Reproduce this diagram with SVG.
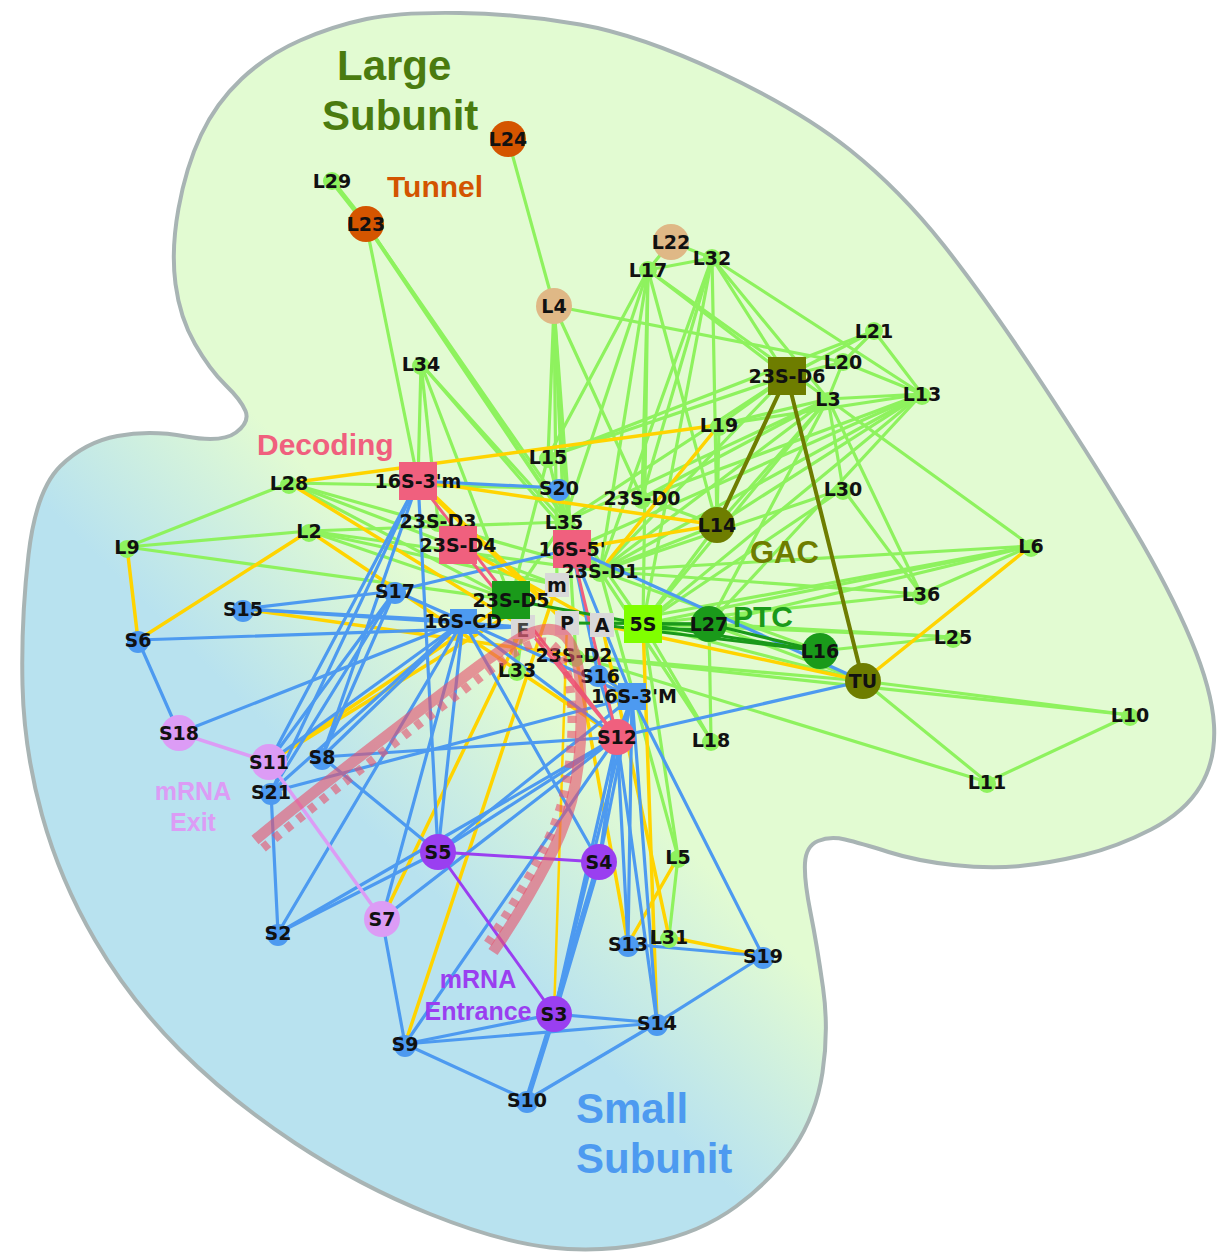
<svg xmlns="http://www.w3.org/2000/svg" width="1228" height="1254" viewBox="0 0 1228 1254">
<defs>
<linearGradient id="bg" gradientUnits="userSpaceOnUse" x1="280" y1="740" x2="430" y2="590">
<stop offset="0" stop-color="#b8e2ef"/>
<stop offset="1" stop-color="#e2fbd2"/>
</linearGradient>
<style>
#edges line{stroke-linecap:round}
.g{stroke:#8ef25e;stroke-width:3.2}
.y{stroke:#ffd400;stroke-width:3.5}
.b{stroke:#4d9af0;stroke-width:3.2}
.tb{stroke:#4d9af0;stroke-width:5.5}
.pk{stroke:#f0607e;stroke-width:3}
.vi{stroke:#dc9cf5;stroke-width:3.5}
.pu{stroke:#9a3ff0;stroke-width:3}
.ol{stroke:#6e7d00;stroke-width:4}
.dg{stroke:#1a9a1a;stroke-width:3}
.ng{fill:#8ef25e}
.nb{fill:#4d9af0}
.nt{fill:#dfb886}
.no{fill:#d45500}
.nv{fill:#dc9cf5}
.np{fill:#9a3ff0}
.nk{fill:#f0607e}
.nd{fill:#1a9a1a}
.nol{fill:#6e7d00}
.ngr{fill:#d9d9d9}
.nl{fill:#80ff00}
text.lb{font-family:"DejaVu Sans",sans-serif;font-weight:bold;font-size:19px;fill:#111;text-anchor:middle;dominant-baseline:central}
text.rg{font-family:"Liberation Sans",Arial,sans-serif;font-weight:bold}
.mr{fill:none;stroke:#e8506a;stroke-opacity:0.6}
</style>
</defs>
<path id="blob" d="M 460,13 Q 520,14 580,24.5 Q 640,35 720,72.5 Q 800,110 850,150 Q 900,190 943.5,245 Q 987,300 1042,383.5 Q 1097,467 1133.5,528.5 Q 1170,590 1191,640 Q 1212,690 1214,725 Q 1216,760 1200.5,786 Q 1185,812 1151,829.5 Q 1117,847 1083.5,855 Q 1050,863 1020,866 Q 990,869 953.5,865 Q 917,861 888.5,852 Q 860,843 845,839.5 Q 830,836 818,841 Q 806,846 805,863 Q 804,880 810.5,912.5 Q 817,945 823,987.5 Q 829,1030 822.5,1072.5 Q 816,1115 794,1147.5 Q 772,1180 736,1206.5 Q 700,1233 650,1243 Q 600,1253 550,1247.5 Q 500,1242 430,1214 Q 360,1186 295,1143 Q 230,1100 180,1050 Q 130,1000 95,940 Q 60,880 42,815 Q 24,750 22.5,685 Q 21,620 28.5,555 Q 36,490 60.5,466 Q 85,442 117.5,436 Q 150,430 186,436.5 Q 222,443 236,432.5 Q 250,422 245.5,411 Q 241,400 225.5,385 Q 210,370 195,344 Q 180,318 175.5,284 Q 171,250 178.5,208.5 Q 186,167 201,135 Q 216,103 241.5,79 Q 267,55 300,40.5 Q 333,26 366.5,19 Q 400,12 460,13 Z" fill="url(#bg)" stroke="#a8b4b4" stroke-width="4"/>

<g id="edges">
<line class="g" style="stroke-width:5" x1="332" y1="181" x2="366" y2="224"/>
<line class="g" x1="366" y1="224" x2="418" y2="481"/>
<line class="g" style="stroke-width:4" x1="366" y1="224" x2="600" y2="571"/>
<line class="g" x1="366" y1="224" x2="643" y2="624"/>
<line class="g" x1="508" y1="139" x2="554" y2="306"/>
<line class="g" x1="671" y1="242" x2="648" y2="270"/>
<line class="g" x1="671" y1="242" x2="712" y2="258"/>
<line class="g" x1="648" y1="270" x2="712" y2="258"/>
<line class="g" x1="554" y1="306" x2="548" y2="457"/>
<line class="g" x1="554" y1="306" x2="564" y2="522"/>
<line class="g" x1="554" y1="306" x2="572" y2="549"/>
<line class="g" x1="554" y1="306" x2="642" y2="498"/>
<line class="g" x1="554" y1="306" x2="843" y2="362"/>
<line class="g" x1="554" y1="306" x2="557" y2="585"/>
<line class="g" x1="554" y1="306" x2="576" y2="656"/>
<line class="g" x1="421" y1="364" x2="438" y2="521"/>
<line class="g" x1="421" y1="364" x2="511" y2="600"/>
<line class="g" x1="421" y1="364" x2="564" y2="522"/>
<line class="g" x1="421" y1="364" x2="600" y2="571"/>
<line class="g" x1="421" y1="364" x2="418" y2="481"/>
<line class="g" x1="648" y1="270" x2="600" y2="571"/>
<line class="g" x1="648" y1="270" x2="642" y2="498"/>
<line class="g" x1="648" y1="270" x2="564" y2="522"/>
<line class="g" x1="648" y1="270" x2="717" y2="525"/>
<line class="g" x1="648" y1="270" x2="828" y2="399"/>
<line class="g" x1="648" y1="270" x2="548" y2="457"/>
<line class="g" x1="648" y1="270" x2="787" y2="376"/>
<line class="g" x1="648" y1="270" x2="643" y2="624"/>
<line class="g" x1="712" y1="258" x2="642" y2="498"/>
<line class="g" x1="712" y1="258" x2="717" y2="525"/>
<line class="g" x1="712" y1="258" x2="643" y2="624"/>
<line class="g" x1="712" y1="258" x2="828" y2="399"/>
<line class="g" x1="712" y1="258" x2="922" y2="394"/>
<line class="g" x1="712" y1="258" x2="600" y2="571"/>
<line class="g" x1="712" y1="258" x2="787" y2="376"/>
<line class="g" x1="874" y1="331" x2="843" y2="362"/>
<line class="g" x1="874" y1="331" x2="922" y2="394"/>
<line class="g" x1="874" y1="331" x2="787" y2="376"/>
<line class="g" x1="874" y1="331" x2="548" y2="457"/>
<line class="g" x1="843" y1="362" x2="922" y2="394"/>
<line class="g" x1="843" y1="362" x2="787" y2="376"/>
<line class="g" x1="843" y1="362" x2="828" y2="399"/>
<line class="g" x1="828" y1="399" x2="922" y2="394"/>
<line class="g" x1="828" y1="399" x2="717" y2="525"/>
<line class="g" x1="828" y1="399" x2="642" y2="498"/>
<line class="g" x1="828" y1="399" x2="564" y2="522"/>
<line class="g" x1="828" y1="399" x2="843" y2="489"/>
<line class="g" x1="828" y1="399" x2="1031" y2="546"/>
<line class="g" x1="828" y1="399" x2="643" y2="624"/>
<line class="g" x1="828" y1="399" x2="709" y2="624"/>
<line class="g" x1="828" y1="399" x2="600" y2="571"/>
<line class="g" x1="828" y1="399" x2="719" y2="425"/>
<line class="g" x1="828" y1="399" x2="921" y2="594"/>
<line class="g" x1="922" y1="394" x2="717" y2="525"/>
<line class="g" x1="922" y1="394" x2="642" y2="498"/>
<line class="g" x1="922" y1="394" x2="643" y2="624"/>
<line class="g" x1="922" y1="394" x2="709" y2="624"/>
<line class="g" x1="922" y1="394" x2="600" y2="571"/>
<line class="g" x1="922" y1="394" x2="719" y2="425"/>
<line class="g" x1="922" y1="394" x2="572" y2="549"/>
<line class="g" x1="787" y1="376" x2="719" y2="425"/>
<line class="g" x1="787" y1="376" x2="548" y2="457"/>
<line class="g" x1="787" y1="376" x2="600" y2="571"/>
<line class="g" x1="787" y1="376" x2="564" y2="522"/>
<line class="g" x1="719" y1="425" x2="717" y2="525"/>
<line class="g" x1="548" y1="457" x2="511" y2="600"/>
<line class="g" x1="548" y1="457" x2="564" y2="522"/>
<line class="g" x1="289" y1="483" x2="127" y2="547"/>
<line class="g" x1="289" y1="483" x2="511" y2="600"/>
<line class="g" x1="289" y1="483" x2="559" y2="488"/>
<line class="g" x1="289" y1="483" x2="600" y2="571"/>
<line class="g" x1="289" y1="483" x2="557" y2="585"/>
<line class="g" x1="309" y1="531" x2="127" y2="547"/>
<line class="g" x1="309" y1="531" x2="511" y2="600"/>
<line class="g" x1="309" y1="531" x2="600" y2="571"/>
<line class="g" x1="309" y1="531" x2="564" y2="522"/>
<line class="g" x1="309" y1="531" x2="557" y2="585"/>
<line class="g" x1="127" y1="547" x2="511" y2="600"/>
<line class="g" x1="843" y1="489" x2="643" y2="624"/>
<line class="g" x1="843" y1="489" x2="921" y2="594"/>
<line class="g" x1="843" y1="489" x2="600" y2="571"/>
<line class="g" x1="1031" y1="546" x2="600" y2="571"/>
<line class="g" x1="1031" y1="546" x2="643" y2="624"/>
<line class="g" x1="1031" y1="546" x2="709" y2="624"/>
<line class="g" x1="1031" y1="546" x2="921" y2="594"/>
<line class="g" x1="1031" y1="546" x2="602" y2="625"/>
<line class="g" x1="921" y1="594" x2="643" y2="624"/>
<line class="g" x1="921" y1="594" x2="600" y2="571"/>
<line class="g" x1="953" y1="637" x2="820" y2="651"/>
<line class="g" x1="953" y1="637" x2="643" y2="624"/>
<line class="g" x1="953" y1="637" x2="709" y2="624"/>
<line class="g" x1="820" y1="651" x2="600" y2="571"/>
<line class="g" x1="863" y1="681" x2="1130" y2="715"/>
<line class="g" x1="863" y1="681" x2="987" y2="782"/>
<line class="g" x1="863" y1="681" x2="709" y2="624"/>
<line class="g" x1="863" y1="681" x2="643" y2="624"/>
<line class="g" x1="863" y1="681" x2="576" y2="656"/>
<line class="g" x1="1130" y1="715" x2="987" y2="782"/>
<line class="g" x1="1130" y1="715" x2="576" y2="656"/>
<line class="g" x1="987" y1="782" x2="576" y2="656"/>
<line class="g" x1="711" y1="740" x2="643" y2="624"/>
<line class="g" x1="711" y1="740" x2="709" y2="624"/>
<line class="g" x1="711" y1="740" x2="600" y2="571"/>
<line class="g" x1="678" y1="857" x2="669" y2="937"/>
<line class="g" x1="678" y1="857" x2="600" y2="571"/>
<line class="g" x1="678" y1="857" x2="643" y2="624"/>
<line class="g" x1="517" y1="670" x2="511" y2="600"/>
<line class="g" x1="517" y1="670" x2="523" y2="627"/>
<line class="g" x1="564" y1="522" x2="511" y2="600"/>
<line class="g" x1="564" y1="522" x2="600" y2="571"/>
<line class="g" x1="717" y1="525" x2="600" y2="571"/>
<line class="g" x1="717" y1="525" x2="643" y2="624"/>
<line class="g" x1="717" y1="525" x2="642" y2="498"/>

<line class="y" x1="127" y1="547" x2="138" y2="640"/>
<line class="y" x1="309" y1="531" x2="138" y2="640"/>
<line class="y" x1="289" y1="483" x2="523" y2="627"/>
<line class="y" x1="309" y1="531" x2="617" y2="737"/>
<line class="y" x1="243" y1="609" x2="576" y2="656"/>
<line class="y" x1="289" y1="483" x2="719" y2="425"/>
<line class="y" x1="418" y1="481" x2="717" y2="525"/>
<line class="y" x1="572" y1="549" x2="717" y2="525"/>
<line class="y" x1="719" y1="425" x2="600" y2="571"/>
<line class="y" x1="1031" y1="546" x2="863" y2="681"/>
<line class="y" x1="863" y1="681" x2="602" y2="625"/>
<line class="y" x1="269" y1="762" x2="511" y2="600"/>
<line class="y" x1="269" y1="762" x2="557" y2="585"/>
<line class="y" x1="382" y1="919" x2="523" y2="627"/>
<line class="y" x1="405" y1="1044" x2="557" y2="585"/>
<line class="y" x1="628" y1="944" x2="678" y2="857"/>
<line class="y" x1="657" y1="1023" x2="643" y2="624"/>
<line class="y" x1="669" y1="937" x2="763" y2="956"/>
<line class="y" style="stroke-width:2.5" x1="554" y1="1014" x2="567" y2="623"/>
<line class="y" x1="628" y1="944" x2="576" y2="656"/>
<line class="y" style="stroke-width:5" x1="418" y1="481" x2="567" y2="623"/>
<line class="y" x1="458" y1="545" x2="602" y2="625"/>
<line class="y" x1="602" y1="625" x2="669" y2="937"/>

<line class="b" x1="418" y1="481" x2="559" y2="488"/>
<line class="b" x1="418" y1="481" x2="269" y2="762"/>
<line class="b" x1="418" y1="481" x2="271" y2="792"/>
<line class="b" x1="418" y1="481" x2="438" y2="852"/>
<line class="b" x1="418" y1="481" x2="322" y2="757"/>
<line class="b" x1="395" y1="591" x2="243" y2="609"/>
<line class="b" x1="395" y1="591" x2="322" y2="757"/>
<line class="b" x1="395" y1="591" x2="269" y2="762"/>
<line class="b" x1="395" y1="591" x2="271" y2="792"/>
<line class="b" x1="395" y1="591" x2="463" y2="621"/>
<line class="b" x1="395" y1="591" x2="572" y2="549"/>
<line class="b" x1="243" y1="609" x2="463" y2="621"/>
<line class="b" x1="243" y1="609" x2="523" y2="627"/>
<line class="b" x1="138" y1="640" x2="523" y2="627"/>
<line class="b" x1="138" y1="640" x2="179" y2="733"/>
<line class="b" x1="179" y1="733" x2="463" y2="621"/>
<line class="b" x1="269" y1="762" x2="463" y2="621"/>
<line class="b" x1="322" y1="757" x2="463" y2="621"/>
<line class="b" x1="271" y1="792" x2="463" y2="621"/>
<line class="b" x1="271" y1="792" x2="278" y2="933"/>
<line class="b" x1="271" y1="792" x2="632" y2="697"/>
<line class="b" x1="278" y1="933" x2="463" y2="621"/>
<line class="b" x1="278" y1="933" x2="617" y2="737"/>
<line class="b" x1="278" y1="933" x2="438" y2="852"/>
<line class="b" x1="438" y1="852" x2="463" y2="621"/>
<line class="b" x1="438" y1="852" x2="617" y2="737"/>
<line class="b" x1="438" y1="852" x2="632" y2="697"/>
<line class="b" x1="322" y1="757" x2="617" y2="737"/>
<line class="b" x1="322" y1="757" x2="438" y2="852"/>
<line class="b" x1="382" y1="919" x2="617" y2="737"/>
<line class="b" x1="382" y1="919" x2="405" y2="1044"/>
<line class="b" x1="382" y1="919" x2="463" y2="621"/>
<line class="b" x1="405" y1="1044" x2="554" y2="1014"/>
<line class="b" x1="405" y1="1044" x2="657" y2="1023"/>
<line class="b" x1="405" y1="1044" x2="527" y2="1100"/>
<line class="b" x1="405" y1="1044" x2="617" y2="737"/>
<line class="tb" x1="554" y1="1014" x2="527" y2="1100"/>
<line class="b" x1="554" y1="1014" x2="657" y2="1023"/>
<line class="tb" x1="554" y1="1014" x2="599" y2="862"/>
<line class="b" x1="554" y1="1014" x2="632" y2="697"/>
<line class="b" x1="554" y1="1014" x2="617" y2="737"/>
<line class="b" x1="527" y1="1100" x2="657" y2="1023"/>
<line class="b" x1="657" y1="1023" x2="763" y2="956"/>
<line class="b" x1="657" y1="1023" x2="632" y2="697"/>
<line class="b" x1="657" y1="1023" x2="617" y2="737"/>
<line class="b" x1="763" y1="956" x2="632" y2="697"/>
<line class="b" x1="628" y1="944" x2="763" y2="956"/>
<line class="b" x1="628" y1="944" x2="632" y2="697"/>
<line class="b" x1="628" y1="944" x2="617" y2="737"/>
<line class="b" x1="599" y1="862" x2="617" y2="737"/>
<line class="b" x1="599" y1="862" x2="632" y2="697"/>
<line class="b" x1="599" y1="862" x2="463" y2="621"/>
<line class="b" x1="617" y1="737" x2="863" y2="681"/>
<line class="b" x1="572" y1="549" x2="863" y2="681"/>
<line class="b" x1="572" y1="549" x2="598" y2="674"/>
<line class="b" x1="572" y1="549" x2="632" y2="697"/>
<line class="b" x1="463" y1="621" x2="632" y2="697"/>
<line class="b" x1="463" y1="621" x2="617" y2="737"/>
<line class="b" x1="598" y1="674" x2="617" y2="737"/>
<line class="b" x1="598" y1="674" x2="632" y2="697"/>
<line class="b" x1="617" y1="737" x2="632" y2="697"/>

<line class="pk" x1="418" y1="481" x2="617" y2="737"/>
<line class="pk" x1="458" y1="545" x2="617" y2="737"/>
<line class="pk" x1="572" y1="549" x2="617" y2="737"/>
<line class="vi" x1="179" y1="733" x2="269" y2="762"/>
<line class="vi" x1="269" y1="762" x2="382" y2="919"/>
<line class="pu" x1="438" y1="852" x2="599" y2="862"/>
<line class="pu" x1="438" y1="852" x2="554" y2="1014"/>
<line class="ol" x1="787" y1="376" x2="717" y2="525"/>
<line class="ol" x1="787" y1="376" x2="863" y2="681"/>
<line class="dg" x1="511" y1="600" x2="643" y2="624"/>
<line class="dg" x1="643" y1="624" x2="709" y2="624"/>
<line class="dg" x1="643" y1="628" x2="709" y2="630"/>
<line class="dg" x1="643" y1="624" x2="820" y2="651"/>
<line class="dg" x1="709" y1="624" x2="820" y2="651"/>
<line class="dg" x1="602" y1="625" x2="820" y2="651"/>
<line class="dg" x1="567" y1="623" x2="709" y2="624"/>
</g>

<g id="node-L24"><circle class="no" cx="508" cy="139" r="18"/><text class="lb" x="508" y="139">L24</text></g>
<g id="node-L29"><circle class="ng" cx="332" cy="181" r="9"/><text class="lb" x="332" y="181">L29</text></g>
<g id="node-L23"><circle class="no" cx="366" cy="224" r="18"/><text class="lb" x="366" y="224">L23</text></g>
<g id="node-L22"><circle class="nt" cx="671" cy="242" r="18"/><text class="lb" x="671" y="242">L22</text></g>
<g id="node-L32"><circle class="ng" cx="712" cy="258" r="9"/><text class="lb" x="712" y="258">L32</text></g>
<g id="node-L17"><circle class="ng" cx="648" cy="270" r="9"/><text class="lb" x="648" y="270">L17</text></g>
<g id="node-L4"><circle class="nt" cx="554" cy="306" r="18"/><text class="lb" x="554" y="306">L4</text></g>
<g id="node-L21"><circle class="ng" cx="874" cy="331" r="9"/><text class="lb" x="874" y="331">L21</text></g>
<g id="node-L20"><circle class="ng" cx="843" cy="362" r="9"/><text class="lb" x="843" y="362">L20</text></g>
<g id="node-23S-D6"><rect class="nol" x="768" y="357" width="38" height="38"/><text class="lb" x="787" y="376">23S-D6</text></g>
<g id="node-L3"><circle class="ng" cx="828" cy="401" r="9"/><text class="lb" x="828" y="399">L3</text></g>
<g id="node-L13"><circle class="ng" cx="922" cy="396" r="9"/><text class="lb" x="922" y="394">L13</text></g>
<g id="node-L34"><circle class="ng" cx="421" cy="366" r="9"/><text class="lb" x="421" y="364">L34</text></g>
<g id="node-L19"><circle class="ng" cx="719" cy="427" r="9"/><text class="lb" x="719" y="425">L19</text></g>
<g id="node-L15"><circle class="ng" cx="548" cy="459" r="9"/><text class="lb" x="548" y="457">L15</text></g>
<g id="node-S20"><circle class="nb" cx="559" cy="490" r="11"/><text class="lb" x="559" y="488">S20</text></g>
<g id="node-23S-D0"><circle class="ng" cx="642" cy="500" r="9"/><text class="lb" x="642" y="498">23S-D0</text></g>
<g id="node-L28"><circle class="ng" cx="289" cy="485" r="9"/><text class="lb" x="289" y="483">L28</text></g>
<g id="node-L30"><circle class="ng" cx="843" cy="491" r="9"/><text class="lb" x="843" y="489">L30</text></g>
<g id="node-L14"><circle class="nol" cx="717" cy="525" r="18"/><text class="lb" x="717" y="525">L14</text></g>
<g id="node-16S-3m"><rect class="nk" x="399" y="462" width="38" height="38"/><text class="lb" x="418" y="481">16S-3'm</text></g>
<g id="node-23S-D3"><circle class="ng" cx="438" cy="523" r="9"/><text class="lb" x="438" y="521">23S-D3</text></g>
<g id="node-L35"><circle class="ng" cx="564" cy="524" r="9"/><text class="lb" x="564" y="522">L35</text></g>
<g id="node-23S-D4"><rect class="nk" x="439" y="526" width="38" height="38"/><text class="lb" x="458" y="545">23S-D4</text></g>
<g id="node-16S-5"><rect class="nk" x="553" y="530" width="38" height="38"/><text class="lb" x="572" y="549">16S-5'</text></g>
<g id="node-L2"><circle class="ng" cx="309" cy="533" r="9"/><text class="lb" x="309" y="531">L2</text></g>
<g id="node-L9"><circle class="ng" cx="127" cy="549" r="9"/><text class="lb" x="127" y="547">L9</text></g>
<g id="node-L6"><circle class="ng" cx="1031" cy="548" r="9"/><text class="lb" x="1031" y="546">L6</text></g>
<g id="node-23S-D1"><circle class="ng" cx="600" cy="573" r="9"/><text class="lb" x="600" y="571">23S-D1</text></g>
<g id="node-S17"><circle class="nb" cx="395" cy="593" r="11"/><text class="lb" x="395" y="591">S17</text></g>
<g id="node-m"><rect class="ngr" x="545" y="573" width="24" height="24"/><text class="lb" x="557" y="585">m</text></g>
<g id="node-E"><rect class="ngr" x="511" y="615" width="24" height="24"/><text class="lb" x="523" y="630" style="fill:#444">E</text></g>
<g id="node-23S-D5"><rect class="nd" x="492" y="581" width="38" height="38"/><text class="lb" x="511" y="600">23S-D5</text></g>
<g id="node-S15"><circle class="nb" cx="243" cy="611" r="11"/><text class="lb" x="243" y="609">S15</text></g>
<g id="node-16S-CD"><rect class="nb" x="450" y="609" width="27" height="25"/><text class="lb" x="463" y="621">16S-CD</text></g>
<g id="node-P"><rect class="ngr" x="555" y="611" width="24" height="24"/><text class="lb" x="567" y="623">P</text></g>
<g id="node-A"><rect class="ngr" x="590" y="613" width="24" height="24"/><text class="lb" x="602" y="625">A</text></g>
<g id="node-5S"><rect class="nl" x="624" y="605" width="38" height="38"/><text class="lb" x="643" y="624">5S</text></g>
<g id="node-L27"><circle class="nd" cx="709" cy="624" r="18"/><text class="lb" x="709" y="624">L27</text></g>
<g id="node-L36"><circle class="ng" cx="921" cy="596" r="9"/><text class="lb" x="921" y="594">L36</text></g>
<g id="node-L25"><circle class="ng" cx="953" cy="639" r="9"/><text class="lb" x="953" y="637">L25</text></g>
<g id="node-S6"><circle class="nb" cx="138" cy="642" r="11"/><text class="lb" x="138" y="640">S6</text></g>
<g id="node-L16"><circle class="nd" cx="820" cy="651" r="18"/><text class="lb" x="820" y="651">L16</text></g>
<g id="node-TU"><circle class="nol" cx="863" cy="681" r="18"/><text class="lb" x="863" y="681">TU</text></g>
<g id="node-23S-D2"><circle class="ng" cx="576" cy="658" r="9"/><text class="lb" x="574" y="655">23S-D2</text></g>
<g id="node-L33"><circle class="ng" cx="517" cy="672" r="9"/><text class="lb" x="517" y="670">L33</text></g>
<g id="node-S16"><circle class="nb" cx="598" cy="676" r="11"/><text class="lb" x="600" y="676">S16</text></g>
<g id="node-16S-3M"><rect class="nb" x="618" y="683" width="28" height="27"/><text class="lb" x="634" y="696">16S-3'M</text></g>
<g id="node-L10"><circle class="ng" cx="1130" cy="717" r="9"/><text class="lb" x="1130" y="715">L10</text></g>
<g id="node-S18"><circle class="nv" cx="179" cy="733" r="18"/><text class="lb" x="179" y="733">S18</text></g>
<g id="node-S12"><circle class="nk" cx="617" cy="737" r="18"/><text class="lb" x="617" y="737">S12</text></g>
<g id="node-L18"><circle class="ng" cx="711" cy="742" r="9"/><text class="lb" x="711" y="740">L18</text></g>
<g id="node-S11"><circle class="nv" cx="269" cy="762" r="18"/><text class="lb" x="269" y="762">S11</text></g>
<g id="node-S8"><circle class="nb" cx="322" cy="759" r="11"/><text class="lb" x="322" y="757">S8</text></g>
<g id="node-S21"><circle class="nb" cx="271" cy="794" r="11"/><text class="lb" x="271" y="792">S21</text></g>
<g id="node-L11"><circle class="ng" cx="987" cy="784" r="9"/><text class="lb" x="987" y="782">L11</text></g>
<g id="node-S5"><circle class="np" cx="438" cy="852" r="18"/><text class="lb" x="438" y="852">S5</text></g>
<g id="node-S4"><circle class="np" cx="599" cy="862" r="18"/><text class="lb" x="599" y="862">S4</text></g>
<g id="node-L5"><circle class="ng" cx="678" cy="859" r="9"/><text class="lb" x="678" y="857">L5</text></g>
<g id="node-S7"><circle class="nv" cx="382" cy="919" r="18"/><text class="lb" x="382" y="919">S7</text></g>
<g id="node-S2"><circle class="nb" cx="278" cy="935" r="11"/><text class="lb" x="278" y="933">S2</text></g>
<g id="node-S13"><circle class="nb" cx="628" cy="946" r="11"/><text class="lb" x="628" y="944">S13</text></g>
<g id="node-L31"><circle class="ng" cx="669" cy="939" r="9"/><text class="lb" x="669" y="937">L31</text></g>
<g id="node-S19"><circle class="nb" cx="763" cy="958" r="11"/><text class="lb" x="763" y="956">S19</text></g>
<g id="node-S3"><circle class="np" cx="554" cy="1014" r="18"/><text class="lb" x="554" y="1014">S3</text></g>
<g id="node-S14"><circle class="nb" cx="657" cy="1025" r="11"/><text class="lb" x="657" y="1023">S14</text></g>
<g id="node-S9"><circle class="nb" cx="405" cy="1046" r="11"/><text class="lb" x="405" y="1044">S9</text></g>
<g id="node-S10"><circle class="nb" cx="527" cy="1102" r="11"/><text class="lb" x="527" y="1100">S10</text></g>

<g id="mrna-path">
<path class="mr" stroke-width="11" d="M 255,840 C 330,778 420,710 480,665 C 515,640 540,622 560,632 C 578,642 582,680 581,720 C 581,760 575,800 560,835 C 545,870 515,920 493,952"/>
<path class="mr" stroke-width="9" stroke-dasharray="7 8" d="M 263,848 C 338,786 426,718 486,673 C 516,650 536,638 550,643 C 565,652 572,682 572,720 C 572,760 566,798 552,831 C 537,866 508,914 486,946"/>
</g>

<g id="region-labels">
<text class="rg" x="337" y="80" font-size="42" fill="#4a7b0f">Large</text>
<text class="rg" x="322" y="130" font-size="42" fill="#4a7b0f">Subunit</text>
<text class="rg" x="387" y="197" font-size="30" fill="#d35400">Tunnel</text>
<text class="rg" x="257" y="455" font-size="30" fill="#f0607e">Decoding</text>
<text class="rg" x="750" y="563" font-size="31" fill="#6e7d00">GAC</text>
<text class="rg" x="733" y="627" font-size="30" fill="#1a9a1a">PTC</text>
<text class="rg" x="193" y="800" font-size="25" fill="#dc9cf5" text-anchor="middle">mRNA</text>
<text class="rg" x="193" y="831" font-size="25" fill="#dc9cf5" text-anchor="middle">Exit</text>
<text class="rg" x="478" y="988" font-size="25" fill="#9a3ff0" text-anchor="middle">mRNA</text>
<text class="rg" x="478" y="1020" font-size="25" fill="#9a3ff0" text-anchor="middle">Entrance</text>
<text class="rg" x="576" y="1123" font-size="42" fill="#4d9af0">Small</text>
<text class="rg" x="576" y="1173" font-size="42" fill="#4d9af0">Subunit</text>
</g>
</svg>
